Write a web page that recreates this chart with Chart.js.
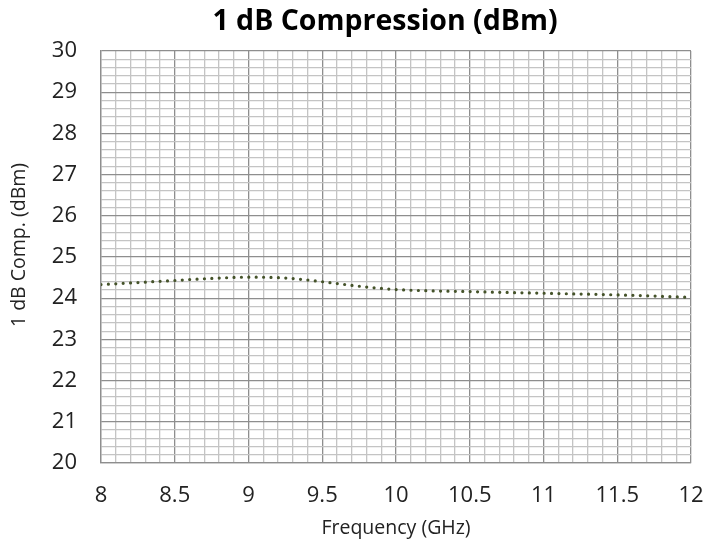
<!DOCTYPE html>
<html><head><meta charset="utf-8">
<script src="https://cdn.jsdelivr.net/npm/chart.js@4/dist/chart.umd.min.js"></script>
<style>html,body{margin:0;padding:0;background:#fff}</style>
</head><body>
<canvas id="c" width="709" height="550"></canvas>
<script>
const frequencyGHz   = [8, 8.25, 8.5, 8.75, 9, 9.25, 9.5, 9.75, 10, 10.5, 11, 11.5, 12];
const compressionDbm = [24.33, 24.38, 24.43, 24.48, 24.51, 24.49, 24.40, 24.29, 24.21, 24.16, 24.12, 24.08, 24.02];
const xMajorTicks = [8, 8.5, 9, 9.5, 10, 10.5, 11, 11.5, 12];
const xTickLabels = ['8', '8.5', '9', '9.5', '10', '10.5', '11', '11.5', '12'];
const yMajorTicks = [20, 21, 22, 23, 24, 25, 26, 27, 28, 29, 30];
const yTickLabels = ['20', '21', '22', '23', '24', '25', '26', '27', '28', '29', '30'];
const titleText = '1 dB Compression (dBm)';
const xTitle = 'Frequency (GHz)';
const yTitle = '1 dB Comp. (dBm)';

function majorIndex(list, v) {
  for (let i = 0; i < list.length; i++) if (Math.abs(list[i] - v) < 1e-6) return i;
  return -1;
}
const MAJOR = '#8e8e8e', MINOR = '#c4c4c4';

const layoutTweaks = {
  id: 'layoutTweaks',
  afterLayout(chart) {
    const t = chart.titleBlock;
    if (t) { t.left = 61; t.right = 709; }
    const y = chart.scales.y;
    if (y && !y._titlePatched) {
      const orig = y.drawTitle;
      y.drawTitle = function () {
        this.top -= 12; this.bottom -= 12;
        orig.call(this);
        this.top += 12; this.bottom += 12;
      };
      y._titlePatched = true;
    }
  }
};

new Chart(document.getElementById('c'), {
  type: 'line',
  data: {
    datasets: [{
      data: frequencyGHz.map((f, i) => ({x: f, y: compressionDbm[i]})),
      borderColor: '#45532a',
      borderWidth: 3.2,
      borderDash: [0, 7.4],
      borderCapStyle: 'round',
      pointRadius: 0,
      fill: false,
      cubicInterpolationMode: 'monotone'
    }]
  },
  options: {
    responsive: false,
    animation: false,
    layout: {padding: {left: 0, right: 18, top: 0, bottom: 0}},
    plugins: {
      legend: {display: false},
      tooltip: {enabled: false},
      title: {
        display: true,
        text: titleText,
        color: '#000',
        font: {family: 'Open Sans', size: 28.5, weight: 'bold', lineHeight: 1.2},
        padding: {top: 5, bottom: 11.8}
      }
    },
    scales: {
      x: {
        type: 'linear',
        min: 8, max: 12,
        afterFit(s) { s.height = 87; s.paddingLeft = 0; s.paddingRight = 0; },
        ticks: {
          stepSize: 0.1,
          autoSkip: false,
          maxRotation: 0,
          padding: 20,
          color: '#222',
          font: {family: 'Open Sans', size: 22},
          callback: (v) => { const i = majorIndex(xMajorTicks, v); return i >= 0 ? xTickLabels[i] : ''; }
        },
        grid: {
          drawTicks: false,
          lineWidth: 1.3,
          color: (ctx) => (ctx.tick && majorIndex(xMajorTicks, ctx.tick.value) >= 0) ? MAJOR : MINOR
        },
        border: {color: MAJOR, width: 1.3},
        title: {
          display: true, text: xTitle, color: '#222',
          font: {family: 'Open Sans', size: 19.5},
          padding: {top: 0, bottom: 10}
        }
      },
      y: {
        type: 'linear',
        min: 20, max: 30,
        afterFit(s) { s.width = 101; s.paddingTop = 0; s.paddingBottom = 0; },
        ticks: {
          stepSize: 0.2,
          autoSkip: false,
          padding: 24,
          color: '#222',
          font: {family: 'Open Sans', size: 22},
          callback: (v) => { const i = majorIndex(yMajorTicks, v); return i >= 0 ? yTickLabels[i] : ''; }
        },
        grid: {
          drawTicks: false,
          lineWidth: 1.3,
          color: (ctx) => (ctx.tick && majorIndex(yMajorTicks, ctx.tick.value) >= 0) ? MAJOR : MINOR
        },
        border: {color: MAJOR, width: 1.3},
        title: {
          display: true, text: yTitle, color: '#222',
          font: {family: 'Open Sans', size: 19.5},
          padding: {top: 8, bottom: 0}
        }
      }
    }
  },
  plugins: [layoutTweaks]
});
</script>
</body></html>
